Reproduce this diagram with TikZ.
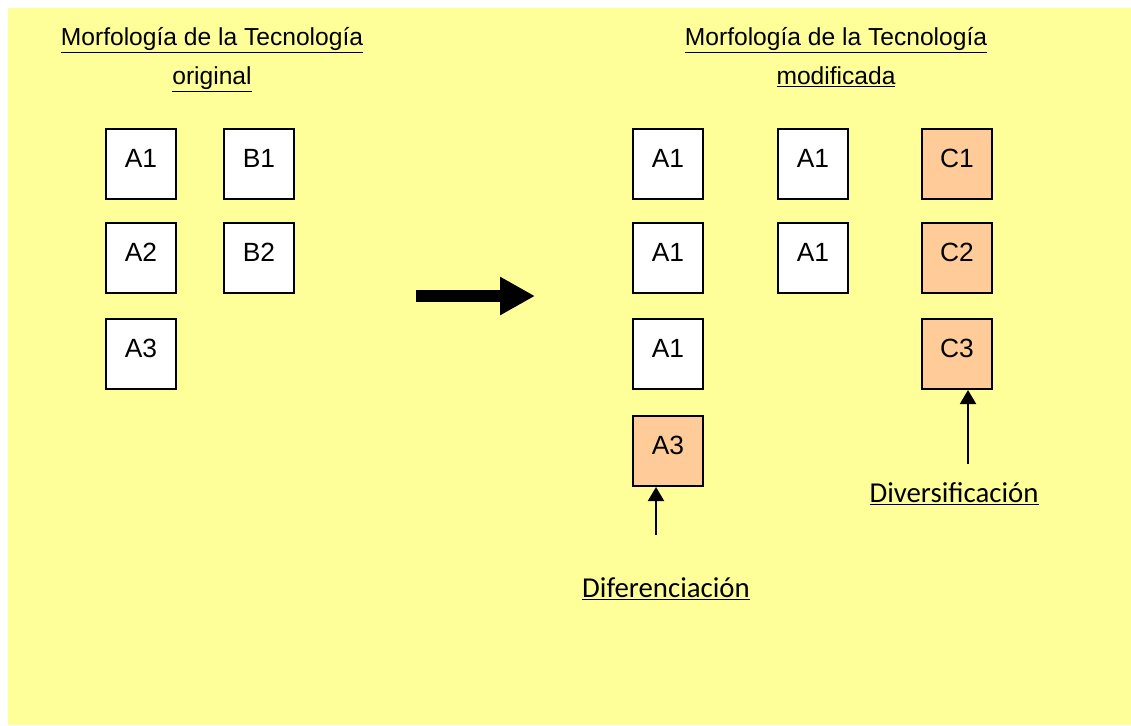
\documentclass[tikz,border=0pt]{standalone}
\usepackage{fontspec}
\setmainfont{Liberation Sans}
\newfontfamily\calibri{Carlito}
\usetikzlibrary{arrows.meta}
\definecolor{notebg}{HTML}{FFFF99}
\definecolor{changed}{HTML}{FFCC99}

\begin{document}
\begin{tikzpicture}[x=0.02cm, y=-0.02cm,
    every node/.style={font=\fontsize{14}{21.5}\selectfont},
    heading/.style={anchor=base, inner sep=0pt},
    box/.style={draw=black, line width=1pt, fill=white, minimum size=1.44cm-\pgflinewidth, inner sep=0pt, font=\fontsize{15}{18}\selectfont, text height=0.38cm, text depth=0.24cm},
    newbox/.style={box, fill=changed},
    tag/.style={font=\calibri\fontsize{16.4}{20}\selectfont, anchor=base},
    pointer/.style={-{Triangle[length=0.28cm,width=0.32cm]}, line width=0.04cm}]
    \useasboundingbox (0,0) rectangle (1131,725);
    \fill[notebg] (8,8) rectangle (1131,725);
    % original technology
    \node[heading] (t1) at (212,45) {\underline{Morfología de la Tecnología}};
    \node[heading] (t1b) at (212,84) {\underline{original}};
    \node[box] (oa1) at (141,164) {A1};
    \node[box] (ob1) at (259,164) {B1};
    \node[box] (oa2) at (141,258) {A2};
    \node[box] (ob2) at (259,258) {B2};
    \node[box] (oa3) at (141,354) {A3};
    % big arrow
    \coordinate (s0) at (416,296);
    \coordinate (s1) at (535,296);
    \draw[line width=0.24cm, -{Triangle[length=0.7cm,width=0.72cm]}] (s0) -- (s1);
    % modified technology
    \node[heading] (t2) at (836,45) {\underline{Morfología de la Tecnología}};
    \node[heading] (t2b) at (836,84) {\underline{modificada}};
    \node[box] (na1) at (668,164) {A1};
    \node[box] (nb1) at (813,164) {A1};
    \node[newbox] (nc1) at (957,164) {C1};
    \node[box] (na2) at (668,258) {A1};
    \node[box] (nb2) at (813,258) {A1};
    \node[newbox] (nc2) at (957,258) {C2};
    \node[box] (na3) at (668,354) {A1};
    \node[newbox] (nc3) at (957,354) {C3};
    \node[newbox] (na4) at (668,451) {A3};
    % labels
    \coordinate (d0) at (656,535);
    \draw[pointer] (d0) -- (d0 |- na4.south);
    \node[tag] (dif) at (666,597) {\underline{Diferenciación}};
    \coordinate (v0) at (968,464);
    \draw[pointer] (v0) -- (v0 |- nc3.south);
    \node[tag] (div) at (954,502) {\underline{Diversificación}};
\end{tikzpicture}
\end{document}
